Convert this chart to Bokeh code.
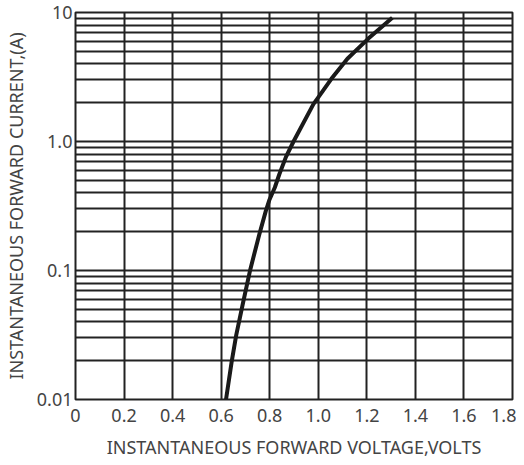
from bokeh.plotting import figure
from bokeh.models import FixedTicker
from bokeh.embed import file_html
from bokeh.resources import INLINE

# Data
voltage = [0.62, 0.643, 0.662, 0.689, 0.72, 0.757, 0.784, 0.798, 0.821, 0.84, 0.867, 0.898,
           0.98, 1.0, 1.054, 1.12, 1.205, 1.305]
current = [0.01, 0.0195, 0.0316, 0.055, 0.102, 0.19, 0.29, 0.35, 0.44, 0.56, 0.76, 1.0,
           1.95, 2.2, 3.06, 4.38, 6.25, 9.1]

x_ticks = [0, 0.2, 0.4, 0.6, 0.8, 1.0, 1.2, 1.4, 1.6, 1.8]
x_labels = ["0", "0.2", "0.4", "0.6", "0.8", "1.0", "1.2", "1.4", "1.6", "1.8"]
y_ticks = [0.01, 0.1, 1.0, 10]
y_labels = ["0.01", "0.1", "1.0", "10"]
y_grid = [m * d for d in [0.01, 0.1, 1.0] for m in range(1, 10)] + [10]
x_title = "INSTANTANEOUS FORWARD VOLTAGE,VOLTS"
y_title = "INSTANTANEOUS FORWARD CURRENT,(A)"

FONT = "Noto Sans"
TXT = "#444444"
LINE = "#222222"

p = figure(width=516, height=465, x_range=(0, 1.8), y_range=(0.01, 10),
           y_axis_type="log", output_backend="svg", toolbar_location=None,
           min_border_left=73, min_border_right=4, min_border_top=12, min_border_bottom=66)

p.line(voltage, current, line_width=4, line_color="#1a1a1a", line_join="round")

p.xaxis.ticker = FixedTicker(ticks=x_ticks)
p.xaxis.major_label_overrides = {t: l for t, l in zip(x_ticks, x_labels)}
p.yaxis.ticker = FixedTicker(ticks=y_ticks)
p.yaxis.major_label_overrides = {t: l for t, l in zip(y_ticks, y_labels)}

p.xgrid.ticker = FixedTicker(ticks=x_ticks)
p.ygrid.ticker = FixedTicker(ticks=y_grid)
for g in (p.xgrid, p.ygrid):
    g.grid_line_color = LINE
    g.grid_line_width = 2
    g.grid_line_alpha = 1

p.outline_line_color = LINE
p.outline_line_width = 2
p.outline_line_alpha = 1

for ax in (p.xaxis, p.yaxis):
    ax.axis_line_color = None
    ax.major_tick_line_color = None
    ax.minor_tick_line_color = None
    ax.major_tick_out = 0
    ax.minor_tick_out = 0
    ax.major_label_text_font = FONT
    ax.major_label_text_font_size = "18px"
    ax.major_label_text_color = TXT
    ax.axis_label_text_font = FONT
    ax.axis_label_text_font_size = "18px"
    ax.axis_label_text_font_style = "normal"
    ax.axis_label_text_color = TXT

p.xaxis.axis_label = x_title
p.yaxis.axis_label = y_title
p.xaxis.major_label_standoff = 9
p.xaxis.axis_label_standoff = 10
p.yaxis.major_label_standoff = 3
p.yaxis.axis_label_standoff = 6

open("out.html", "w").write(file_html(p, INLINE))
